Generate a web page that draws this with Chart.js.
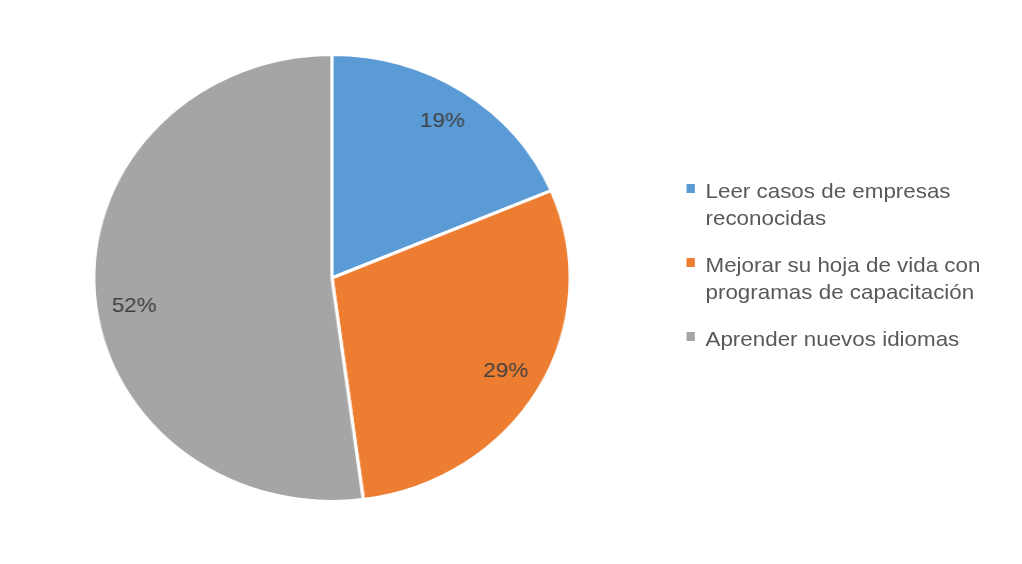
<!DOCTYPE html>
<html>
<head>
<meta charset="utf-8">
<title>Pie</title>
<script src="https://cdn.jsdelivr.net/npm/chart.js@4"></script>
<style>
  html, body { margin: 0; padding: 0; background: #fff; overflow: hidden; }
  /* the reference is stretched horizontally, so draw at 959px and stretch to 1022 */
  #stage { position: absolute; left: 0; top: 0; width: 959px; height: 564px; transform: scaleX(1.0657); transform-origin: 0 0; }
  #chartBox { position: absolute; left: 0; top: 0; width: 959px; height: 564px; }
  #legend { position: absolute; left: 644px; top: 177px; font-family: "Liberation Sans", Arial, sans-serif; font-size: 21px; line-height: 27px; color: #595959; }
  .item { position: relative; padding-left: 18px; margin-bottom: 20px; white-space: nowrap; }
  .swatch { position: absolute; left: 0; top: 7px; width: 8px; height: 9px; }
</style>
</head>
<body>
<div id="stage">
  <div id="chartBox"><canvas id="pieChart"></canvas></div>
  <div id="legend"></div>
</div>
<script>
const categories = [
    ['Leer casos de empresas', 'reconocidas'],
    ['Mejorar su hoja de vida con', 'programas de capacitación'],
    ['Aprender nuevos idiomas']
];
// shares; labels show them rounded
const values = [18.6, 29.3, 52.1];
const sliceColors = ['#5B9BD5', '#ED7D31', '#A5A5A5'];

// percent labels inside the slices (the big one sits a bit below its middle, like Excel's best fit)
const labelNudge = [0, 0, -0.085];
const sliceLabels = {
    id: 'sliceLabels',
    afterDatasetsDraw(chart) {
        const ctx = chart.ctx;
        const total = values.reduce((a, b) => a + b, 0);
        chart.getDatasetMeta(0).data.forEach((arc, i) => {
            const mid = (arc.startAngle + arc.endAngle) / 2 + labelNudge[i];
            const r = arc.outerRadius * 0.84;
            ctx.save();
            ctx.font = '21px "Liberation Sans", Arial, sans-serif';
            ctx.fillStyle = '#404040';
            ctx.textAlign = 'center';
            ctx.textBaseline = 'middle';
            ctx.fillText(Math.round(values[i] / total * 100) + '%', arc.x + Math.cos(mid) * r, arc.y + Math.sin(mid) * r);
            ctx.restore();
        });
    }
};

new Chart(document.getElementById('pieChart'), {
    type: 'pie',
    data: {
        labels: categories.map(c => c.join(' ')),
        datasets: [{
            data: values,
            backgroundColor: sliceColors,
            borderColor: '#ffffff',
            borderWidth: 3
        }]
    },
    options: {
        responsive: true,
        maintainAspectRatio: false,
        animation: false,
        layout: { padding: { left: 0, right: 336, top: 53, bottom: 61 } },
        plugins: {
            legend: { display: false },
            tooltip: { enabled: false }
        }
    },
    plugins: [sliceLabels]
});

// legend as plain text
const legend = document.getElementById('legend');
categories.forEach((lines, i) => {
    const item = document.createElement('div');
    item.className = 'item';
    const sw = document.createElement('span');
    sw.className = 'swatch';
    sw.style.background = sliceColors[i];
    item.appendChild(sw);
    lines.forEach((line, j) => {
        if (j > 0) item.appendChild(document.createElement('br'));
        item.appendChild(document.createTextNode(line));
    });
    legend.appendChild(item);
});
</script>
</body>
</html>
